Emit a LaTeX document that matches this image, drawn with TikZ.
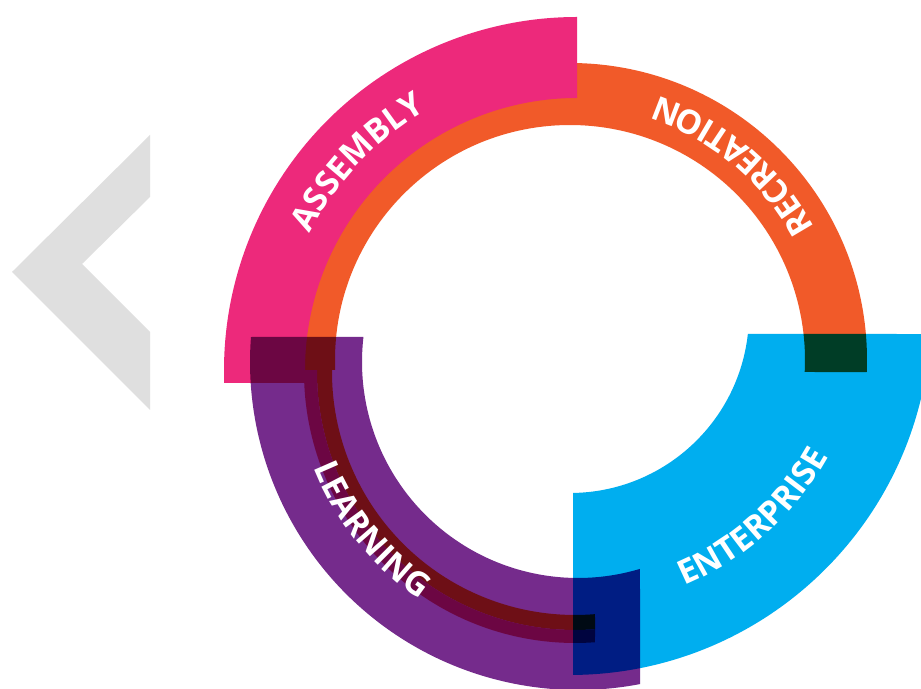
\documentclass[tikz,border=0pt]{standalone}
\usepackage{fontspec}
\setmainfont{Open Sans}
\usetikzlibrary{calc,decorations.text}

\definecolor{recreation}{RGB}{241,90,41}
\definecolor{assembly}{RGB}{237,41,123}
\definecolor{enterprise}{RGB}{0,174,239}
\definecolor{learning}{RGB}{117,43,140}
\definecolor{chevron}{RGB}{223,223,223}
\newcommand{\arcfont}{\fontsize{19}{19}\selectfont\bfseries}
\tikzset{
	arclabel/.style={decorate, decoration={text along path, text align=center, text color=white, text={|\arcfont|#1}}}
}

\begin{document}
\begin{tikzpicture}[x=0.02cm, y=0.02cm]
		\clip (0,0) rectangle (921,689);
		\fill[white] (0,0) rectangle (921,689);
		\coordinate (rec) at (570,329);
		\coordinate (asm) at (577,319);
		\coordinate (tail) at (575,317);
		\coordinate (lrn) at (578,327);
		\coordinate (ent) at (570,375);

		\fill[chevron] (150,554) -- (12,417) -- (150,279) -- (150,357) -- (82,425) -- (150,492) -- cycle;

		\fill[recreation] ($(tail)+(178:243)$) arc[start angle=178, end angle=274.72, radius=243]
			-- ($(tail)+(274.45:258)$) arc[start angle=274.45, end angle=178, radius=258] -- cycle;
		\fill[assembly] ($(tail)+(178:258)$) arc[start angle=178, end angle=274.45, radius=258]
			-- ($(tail)+(274.23:271)$) arc[start angle=274.23, end angle=178, radius=271] -- cycle;

		\fill[recreation] ($(rec)+(-2.32:297)$) arc[start angle=-2.32, end angle=181.9, radius=297]
			-- ($(rec)+(182.4:235)$) arc[start angle=182.4, end angle=-2.93, radius=235] -- cycle;
		\fill[assembly] ($(asm)+(90:353)$) arc[start angle=90, end angle=182.1, radius=353]
			-- ($(asm)+(182.7:272)$) arc[start angle=182.7, end angle=90, radius=272] -- cycle;

		\begin{scope}[blend mode=multiply]
			\fill[enterprise] ($(ent)+(-3.18:361)$) arc[start angle=-3.18, end angle=-89.52, radius=361]
				-- ($(ent)+(-89.04:179)$) arc[start angle=-89.04, end angle=-6.41, radius=179] -- cycle;
			\fill[learning] ($(lrn)+(175.63:328)$) arc[start angle=175.63, end angle=280.9, radius=328]
				-- ($(lrn)+(286.68:216)$) arc[start angle=286.68, end angle=173.35, radius=216] -- cycle;
		\end{scope}

		\path[arclabel=ASSEMBLY] ($(asm)+(170:300)$) arc[start angle=170, end angle=103, radius=300];
		\path[arclabel=RECREATION] ($(rec)+(8:278)$) arc[start angle=8, end angle=92, radius=278];
		\path[arclabel=ENTERPRISE] ($(ent)+(-90:295)$) arc[start angle=-90, end angle=-6, radius=295];
		\path[arclabel=LEARNING] ($(lrn)+(182:285)$) arc[start angle=182, end angle=256, radius=285];
	\end{tikzpicture}
\end{document}
